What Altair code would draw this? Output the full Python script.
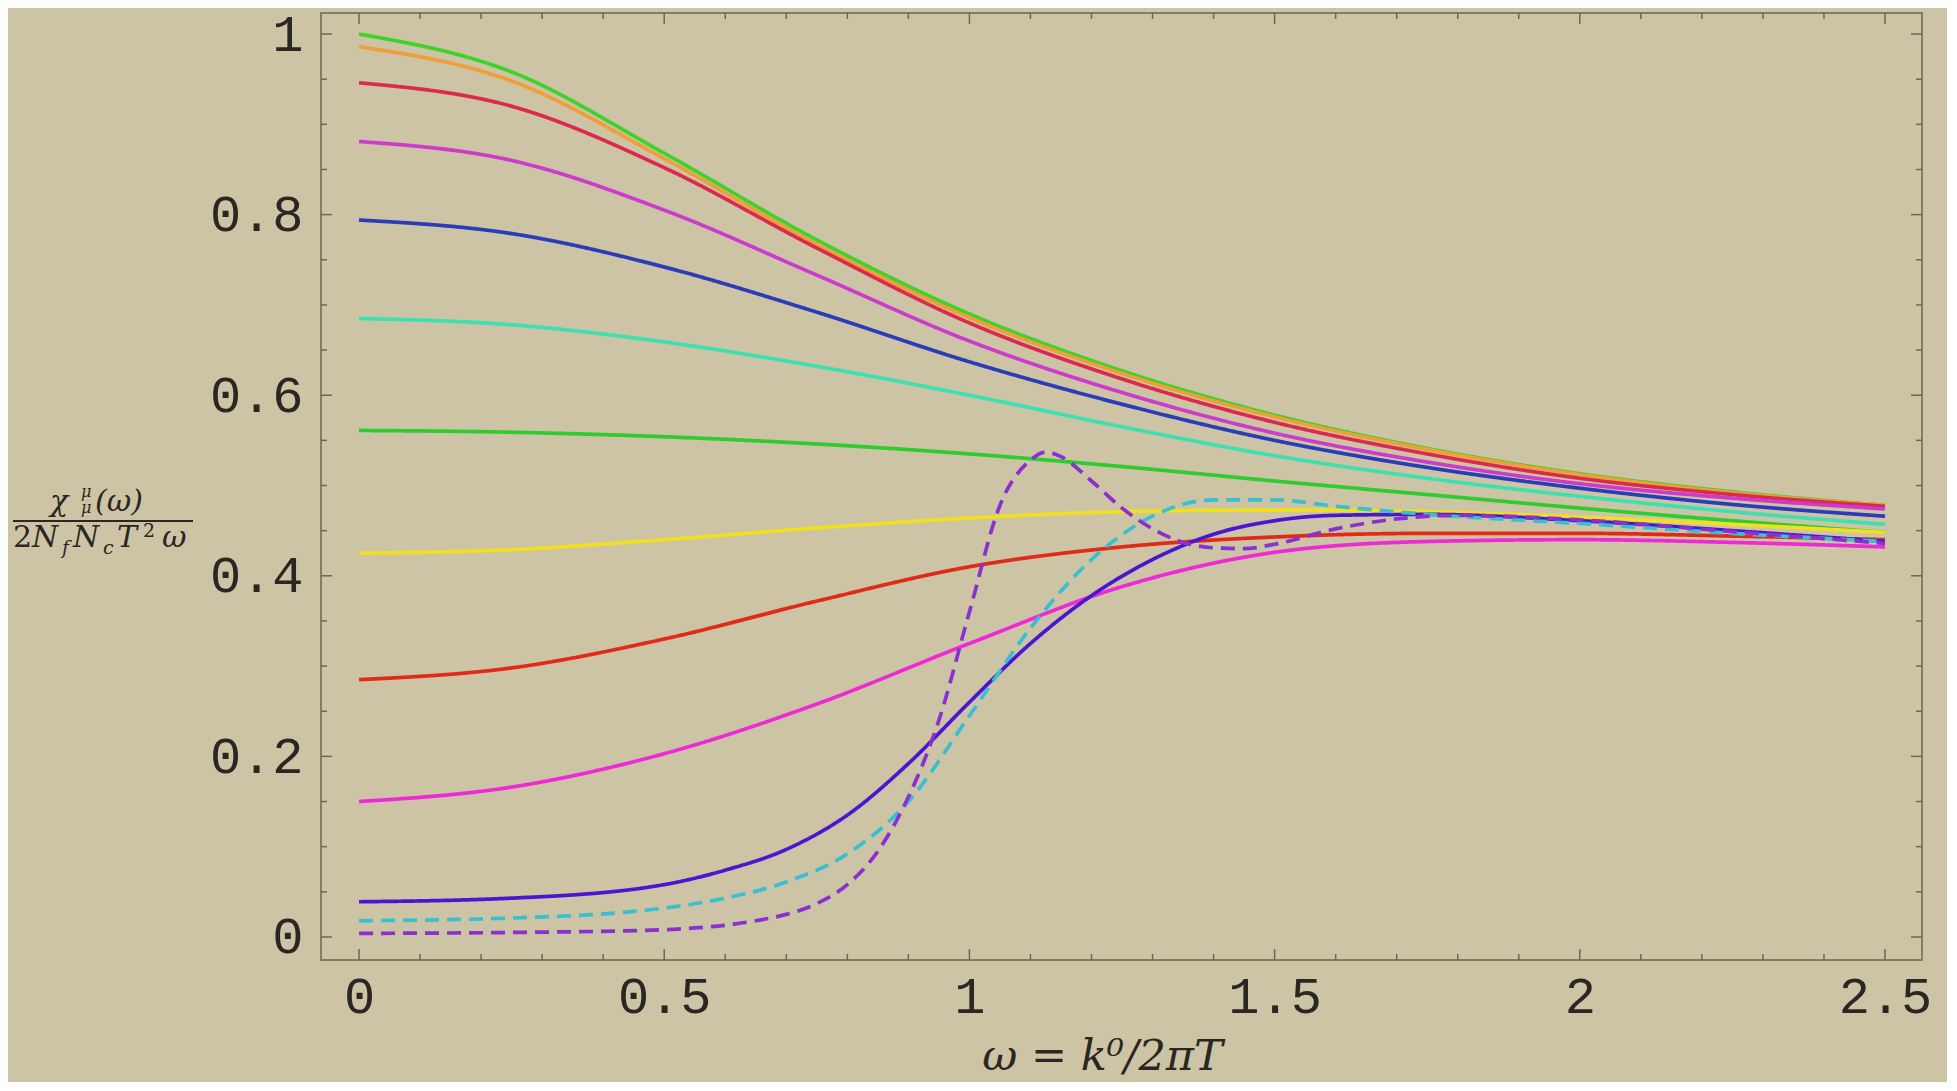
import altair as alt
import pandas as pd

# ---------------- data ----------------
W_GRID = [0, 0.25, 0.5, 0.75, 1.0, 1.25, 1.5, 1.75, 2.0, 2.25, 2.5]
green_a   = [1.000, 0.958, 0.868, 0.772, 0.690, 0.627, 0.578, 0.541, 0.513, 0.493, 0.478]
orange    = [0.986, 0.948, 0.862, 0.767, 0.686, 0.624, 0.576, 0.540, 0.512, 0.492, 0.478]
red_a     = [0.946, 0.920, 0.852, 0.763, 0.680, 0.618, 0.570, 0.535, 0.508, 0.490, 0.477]
magenta_a = [0.881, 0.860, 0.805, 0.733, 0.660, 0.603, 0.558, 0.526, 0.502, 0.486, 0.474]
blue_a    = [0.794, 0.779, 0.742, 0.692, 0.637, 0.590, 0.550, 0.520, 0.497, 0.479, 0.466]
turquoise = [0.685, 0.678, 0.659, 0.632, 0.600, 0.565, 0.533, 0.508, 0.488, 0.471, 0.457]
green_b   = [0.561, 0.559, 0.554, 0.546, 0.535, 0.521, 0.505, 0.490, 0.475, 0.461, 0.448]
yellow    = [0.425, 0.429, 0.440, 0.453, 0.464, 0.471, 0.473, 0.471, 0.465, 0.457, 0.448]
red_b     = [0.285, 0.298, 0.330, 0.372, 0.410, 0.432, 0.443, 0.447, 0.447, 0.444, 0.440]
magenta_b = [0.150, 0.166, 0.203, 0.258, 0.325, 0.388, 0.426, 0.438, 0.440, 0.437, 0.432]

VIOLET_W = [0, 0.25, 0.5, 0.6, 0.7, 0.8, 0.9, 1.0, 1.1, 1.2, 1.3, 1.4, 1.5, 1.6, 1.75, 2.0, 2.25, 2.5]
violet   = [0.039, 0.043, 0.058, 0.074, 0.097, 0.135, 0.192, 0.260, 0.325, 0.378, 0.418, 0.446,
            0.461, 0.467, 0.468, 0.461, 0.450, 0.438]
CYAN_W   = [0, 0.25, 0.5, 0.6, 0.7, 0.8, 0.9, 1.0, 1.1, 1.2, 1.3, 1.4, 1.5, 1.6, 1.75, 2.0, 2.25, 2.5]
cyan_d   = [0.018, 0.021, 0.032, 0.043, 0.061, 0.092, 0.150, 0.245, 0.342, 0.418, 0.466, 0.484,
            0.484, 0.477, 0.468, 0.458, 0.447, 0.438]
PURPLE_W = [0, 0.25, 0.5, 0.55, 0.6, 0.65, 0.7, 0.75, 0.8, 0.85, 0.9, 0.95, 1.0, 1.05, 1.1, 1.125,
            1.15, 1.2, 1.25, 1.3, 1.35, 1.4, 1.45, 1.5, 1.6, 1.7, 1.8, 2.0, 2.25, 2.5]
purple_d = [0.004, 0.005, 0.008, 0.010, 0.013, 0.018, 0.025, 0.037, 0.058, 0.095, 0.155, 0.240,
            0.360, 0.478, 0.528, 0.537, 0.532, 0.505, 0.475, 0.452, 0.437, 0.431, 0.430, 0.435,
            0.452, 0.463, 0.467, 0.462, 0.449, 0.436]

SERIES = [
    ("green_a", W_GRID, green_a, "#3fd22a", "solid"),
    ("orange", W_GRID, orange, "#ef9f3a", "solid"),
    ("red_a", W_GRID, red_a, "#dc2a4e", "solid"),
    ("magenta_a", W_GRID, magenta_a, "#cc3ccc", "solid"),
    ("blue_a", W_GRID, blue_a, "#2a3cb8", "solid"),
    ("turquoise", W_GRID, turquoise, "#3ee0b0", "solid"),
    ("green_b", W_GRID, green_b, "#2ecc30", "solid"),
    ("yellow", W_GRID, yellow, "#f0e020", "solid"),
    ("red_b", W_GRID, red_b, "#e02a1a", "solid"),
    ("magenta_b", W_GRID, magenta_b, "#ee2ad6", "solid"),
    ("violet", VIOLET_W, violet, "#4a16d0", "solid"),
    ("cyan_d", CYAN_W, cyan_d, "#38c0d0", "dashed"),
    ("purple_d", PURPLE_W, purple_d, "#8a30d0", "dashed"),
]

X_MAJOR = [0, 0.5, 1, 1.5, 2, 2.5]
X_MINOR = [0.1, 0.2, 0.3, 0.4, 0.6, 0.7, 0.8, 0.9, 1.1, 1.2, 1.3, 1.4, 1.6, 1.7, 1.8, 1.9,
           2.1, 2.2, 2.3, 2.4]
Y_MAJOR = [0, 0.2, 0.4, 0.6, 0.8, 1.0]
Y_MINOR = [0.05, 0.1, 0.15, 0.25, 0.3, 0.35, 0.45, 0.5, 0.55, 0.65, 0.7, 0.75, 0.85, 0.9, 0.95]

# ---------------- build ----------------
rows = []
for name, xs, ys, col, dash in SERIES:
    for xv, yv in zip(xs, ys):
        rows.append({"series": name, "w": xv, "v": yv, "dash": dash})
df = pd.DataFrame(rows)

W, H = 1601, 947
BG = "#cdc4a6"
FRAME = "#857c68"
TICK = "#6e6656"
TXT = "#2a2622"

xscale = alt.Scale(domain=[-0.0623, 2.5606], nice=False, zero=False)
yscale = alt.Scale(domain=[-0.0255, 1.0233], nice=False, zero=False)

xaxis = alt.Axis(values=X_MAJOR, format=".1~f", grid=False, domain=False, ticks=False,
                 tickSize=0, labelFont="Liberation Mono", labelFontSize=52,
                 labelColor=TXT, labelPadding=11, labelFlush=False,
                 title="ω = k⁰/2πT", titleFont="DejaVu Serif", titleFontStyle="italic",
                 titleFontWeight="normal", titleFontSize=43, titleColor=TXT,
                 titleX=781, titleY=109, titleBaseline="alphabetic")
yaxis = alt.Axis(values=Y_MAJOR, format=".1~f", grid=False, domain=False, ticks=False,
                 tickSize=0, labelFont="Liberation Mono", labelFontSize=52,
                 labelColor=TXT, labelPadding=18, labelFlush=False, title="")

lines = alt.Chart(df).mark_line(strokeWidth=3.7, interpolate="monotone").encode(
    x=alt.X("w:Q", scale=xscale, axis=xaxis),
    y=alt.Y("v:Q", scale=yscale, axis=yaxis),
    color=alt.Color("series:N", legend=None,
                    scale=alt.Scale(domain=[s[0] for s in SERIES], range=[s[3] for s in SERIES])),
    strokeDash=alt.StrokeDash("dash:N", legend=None,
                              scale=alt.Scale(domain=["solid", "dashed"], range=[[1, 0], [14, 8]])),
    order=alt.Order("w:Q"),
)

def ticks_y(vals, length):
    d = pd.DataFrame({"t": vals})
    left = alt.Chart(d).mark_rule(color=TICK, strokeWidth=1.5).encode(
        y=alt.Y("t:Q", scale=yscale, axis=yaxis), x=alt.value(0), x2=alt.value(length))
    right = alt.Chart(d).mark_rule(color=TICK, strokeWidth=1.5).encode(
        y=alt.Y("t:Q", scale=yscale, axis=yaxis), x=alt.value(W), x2=alt.value(W - length))
    return [left, right]

def ticks_x(vals, length):
    d = pd.DataFrame({"t": vals})
    bottom = alt.Chart(d).mark_rule(color=TICK, strokeWidth=1.5).encode(
        x=alt.X("t:Q", scale=xscale, axis=xaxis), y=alt.value(H), y2=alt.value(H - length))
    top = alt.Chart(d).mark_rule(color=TICK, strokeWidth=1.5).encode(
        x=alt.X("t:Q", scale=xscale, axis=xaxis), y=alt.value(0), y2=alt.value(length))
    return [bottom, top]

one = pd.DataFrame({"k": [0]})
OX, OY = 321, 13  # page position of plot origin

def piece(s, px, py, size, style="italic"):
    return alt.Chart(one).mark_text(text=s, font="DejaVu Serif", fontSize=size, fontStyle=style,
                                    align="left", baseline="alphabetic", color=TXT).encode(
        x=alt.value(px - OX), y=alt.value(py - OY))

ytitle = [
    piece("χ", 50, 511, 30),
    piece("μ", 81, 497, 16),
    piece("μ", 81, 513, 16),
    piece("(ω)", 95, 511, 30),
    alt.Chart(one).mark_rule(color=TXT, strokeWidth=2).encode(
        x=alt.value(13 - OX), x2=alt.value(193 - OX), y=alt.value(521 - OY)),
    piece("2", 13, 547, 30, "normal"),
    piece("N", 32, 547, 30),
    piece("f", 62, 554, 19),
    piece("N", 73, 547, 30),
    piece("c", 103, 554, 19),
    piece("T", 117, 547, 30),
    piece("2", 143, 537, 19, "normal"),
    piece("ω", 162, 547, 30),
]

layers = [lines] + ticks_y(Y_MAJOR, 11) + ticks_y(Y_MINOR, 6) + ticks_x(X_MAJOR, 11) + \
    ticks_x(X_MINOR, 6) + ytitle

chart = alt.layer(*layers).properties(
    width=W, height=H,
    autosize=alt.AutoSizeParams(type="none"),
    padding={"left": OX - 8, "top": OY - 8, "right": 25, "bottom": 122},
).configure(background=BG).configure_view(stroke=FRAME, strokeWidth=2, fill=BG)

chart.save("out.html", embed_options={"renderer": "svg", "actions": False})
